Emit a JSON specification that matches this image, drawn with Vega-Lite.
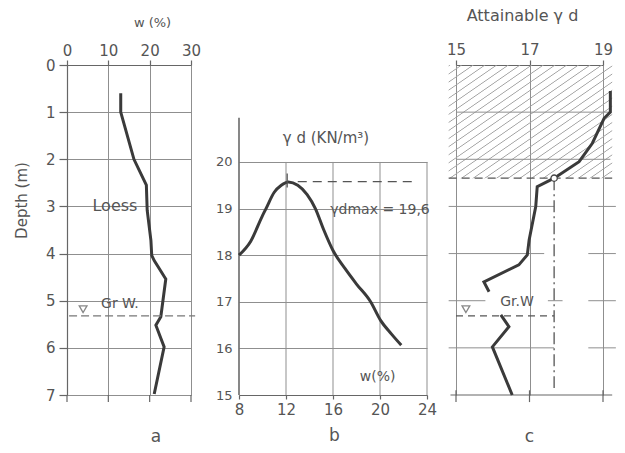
{
  "$schema": "https://vega.github.io/schema/vega-lite/v6.json",
  "background": "white",
  "padding": {"left": 14, "top": 7, "right": 5, "bottom": 5},
  "config": {
    "view": {"stroke": null},
    "font": "DejaVu Sans",
    "axis": {
      "labelColor": "#555", "titleColor": "#555", "domainColor": "#666", "tickColor": "#666",
      "gridColor": "#8f8f8f", "gridOpacity": 1, "gridWidth": 1, "domainWidth": 1.2, "tickWidth": 1.2,
      "labelFontSize": 15, "titleFontSize": 15, "titleFontWeight": "normal", "labelFlush": false
    },
    "text": {"font": "DejaVu Sans", "color": "#555"}
  },
  "datasets": {
    "one": [{}],
    "wprof": [
      {"depth": 0.6, "w": 13.0}, {"depth": 1.0, "w": 13.0}, {"depth": 2.0, "w": 16.2}, {"depth": 2.55, "w": 19.2},
      {"depth": 3.08, "w": 19.4}, {"depth": 3.72, "w": 20.3}, {"depth": 4.04, "w": 20.5}, {"depth": 4.15, "w": 21.1},
      {"depth": 4.54, "w": 23.9}, {"depth": 5.34, "w": 22.7}, {"depth": 5.52, "w": 21.5}, {"depth": 5.98, "w": 23.5},
      {"depth": 6.98, "w": 21.1}
    ],
    "compaction": [
      {"w": 8.0, "g": 18.0}, {"w": 9.0, "g": 18.3}, {"w": 10.0, "g": 18.85}, {"w": 10.3, "g": 19.0},
      {"w": 11.0, "g": 19.35}, {"w": 11.6, "g": 19.5}, {"w": 12.2, "g": 19.57}, {"w": 13.0, "g": 19.5},
      {"w": 13.8, "g": 19.3}, {"w": 14.5, "g": 19.0}, {"w": 15.2, "g": 18.55}, {"w": 16.0, "g": 18.1},
      {"w": 17.0, "g": 17.72}, {"w": 18.0, "g": 17.38}, {"w": 19.2, "g": 17.0}, {"w": 20.05, "g": 16.6},
      {"w": 21.0, "g": 16.3}, {"w": 21.8, "g": 16.07}
    ],
    "attain": [
      {"seg": 1, "depth": 0.55, "g": 19.2}, {"seg": 1, "depth": 1.0, "g": 19.2}, {"seg": 1, "depth": 1.13, "g": 19.03},
      {"seg": 1, "depth": 1.66, "g": 18.71}, {"seg": 1, "depth": 2.05, "g": 18.35}, {"seg": 1, "depth": 2.4, "g": 17.67},
      {"seg": 1, "depth": 2.58, "g": 17.21}, {"seg": 1, "depth": 3.0, "g": 17.17}, {"seg": 1, "depth": 3.71, "g": 16.99},
      {"seg": 1, "depth": 4.03, "g": 16.94}, {"seg": 1, "depth": 4.24, "g": 16.71}, {"seg": 1, "depth": 4.6, "g": 15.76},
      {"seg": 1, "depth": 4.81, "g": 15.9},
      {"seg": 2, "depth": 5.3, "g": 16.22}, {"seg": 2, "depth": 5.55, "g": 16.44}, {"seg": 2, "depth": 5.98, "g": 15.99},
      {"seg": 2, "depth": 7.0, "g": 16.53}
    ],
    "aticks": [{"v": 0}, {"v": 10}, {"v": 20}, {"v": 30}],
    "cticks": [{"v": 15}, {"v": 17}, {"v": 19}],
    "bgrid": [{"v": 12}, {"v": 16}, {"v": 20}, {"v": 24}],
    "cgridFull": [{"d": 1}, {"d": 2}],
    "cgridShort": [{"d": 3}, {"d": 6}],
    "cgridRight": [{"d": 3}, {"d": 4}, {"d": 5}, {"d": 6}]
  },
  "bounds": "flush",
  "spacing": 48,
  "hconcat": [
    {
      "width": 124,
      "height": 330,
      "layer": [
        {
          "data": {"name": "wprof"},
          "mark": {"type": "line", "color": "#3a3a3a", "strokeWidth": 3},
          "encoding": {
            "x": {"field": "w", "type": "quantitative",
              "scale": {"domain": [0, 30], "nice": false, "zero": false},
              "axis": {"orient": "top", "values": [0, 10, 20, 30], "title": "w (%)", "grid": true,
                "tickSize": 5, "labelPadding": 2, "titleX": 85, "titleY": -43, "titleBaseline": "middle",
                "titleAlign": "center", "titleFontSize": 13}},
            "y": {"field": "depth", "type": "quantitative",
              "scale": {"domain": [0, 7], "reverse": true, "nice": false, "zero": false},
              "axis": {"values": [0, 1, 2, 3, 4, 5, 6, 7], "title": "Depth (m)", "grid": true,
                "tickSize": 8, "labelPadding": 4, "titleX": -46, "titleY": 135, "titleBaseline": "middle",
                "titleAlign": "center", "titleAngle": -90}},
            "order": {"field": "depth", "type": "quantitative"}
          }
        },
        {
          "data": {"name": "aticks"},
          "mark": {"type": "rule", "color": "#666", "strokeWidth": 1.2},
          "encoding": {
            "x": {"field": "v", "type": "quantitative"},
            "y": {"datum": 7, "type": "quantitative"},
            "y2": {"datum": 7.15}
          }
        },
        {
          "data": {"name": "one"},
          "mark": {"type": "rule", "color": "#777", "strokeWidth": 1.2, "strokeDash": [8, 4]},
          "encoding": {
            "x": {"datum": 0.5, "type": "quantitative"},
            "x2": {"datum": 31},
            "y": {"datum": 5.32, "type": "quantitative"}
          }
        },
        {
          "data": {"name": "one"},
          "mark": {"type": "point", "shape": "triangle-down", "filled": false, "color": "#555", "strokeWidth": 1.3, "size": 60},
          "encoding": {"x": {"datum": 3.9, "type": "quantitative"}, "y": {"datum": 5.18, "type": "quantitative"}}
        },
        {
          "data": {"name": "one"},
          "mark": {"type": "text", "fontSize": 14, "align": "center", "baseline": "middle"},
          "encoding": {"x": {"datum": 12.8, "type": "quantitative"}, "y": {"datum": 5.07, "type": "quantitative"}, "text": {"value": "Gr W."}}
        },
        {
          "data": {"name": "one"},
          "mark": {"type": "text", "fontSize": 16, "align": "center", "baseline": "middle"},
          "encoding": {"x": {"datum": 11.6, "type": "quantitative"}, "y": {"datum": 3.0, "type": "quantitative"}, "text": {"value": "Loess"}}
        },
        {
          "data": {"name": "one"},
          "mark": {"type": "text", "fontSize": 17, "align": "center", "baseline": "middle"},
          "encoding": {"x": {"datum": 21.5, "type": "quantitative"}, "y": {"datum": 7.9, "type": "quantitative"}, "text": {"value": "a"}}
        }
      ]
    },
    {
      "bounds": "flush",
      "spacing": 29,
      "hconcat": [
        {
          "width": 188,
          "height": 330,
          "layer": [
            {
              "data": {"name": "bgrid"},
              "mark": {"type": "rule", "color": "#8f8f8f", "strokeWidth": 1},
              "encoding": {
                "x": {"field": "v", "type": "quantitative"},
                "y": {"datum": 15, "type": "quantitative"},
                "y2": {"datum": 20}
              }
            },
            {
              "data": {"name": "one"},
              "mark": {"type": "rule", "color": "#555", "strokeWidth": 1.4},
              "encoding": {
                "x": {"datum": 8, "type": "quantitative"},
                "y": {"datum": 15, "type": "quantitative"},
                "y2": {"datum": 20.95}
              }
            },
            {
              "data": {"name": "compaction"},
              "mark": {"type": "line", "color": "#3a3a3a", "strokeWidth": 3, "interpolate": "monotone"},
              "encoding": {
                "x": {"field": "w", "type": "quantitative",
                  "scale": {"domain": [8, 24], "nice": false, "zero": false},
                  "axis": {"orient": "bottom", "values": [8, 12, 16, 20, 24], "grid": false, "tickSize": 4,
                    "labelPadding": 3, "title": "b", "titleFontSize": 17, "titleX": 95, "titleY": 40,
                    "titleBaseline": "middle", "titleAlign": "center"}},
                "y": {"field": "g", "type": "quantitative",
                  "scale": {"domain": [15, 22.08], "nice": false, "zero": false},
                  "axis": {"values": [15, 16, 17, 18, 19, 20], "grid": true, "domain": false, "ticks": false,
                    "labelPadding": 7, "labelFontSize": 13, "title": null}}
              }
            },
            {
              "data": {"name": "one"},
              "mark": {"type": "rule", "color": "#555", "strokeWidth": 1.3},
              "encoding": {
                "x": {"datum": 12.1, "type": "quantitative"},
                "y": {"datum": 19.45, "type": "quantitative"},
                "y2": {"datum": 19.75}
              }
            },
            {
              "data": {"name": "one"},
              "mark": {"type": "rule", "color": "#555", "strokeWidth": 1.3, "strokeDash": [9, 6]},
              "encoding": {
                "x": {"datum": 13, "type": "quantitative"},
                "x2": {"datum": 22.8},
                "y": {"datum": 19.58, "type": "quantitative"}
              }
            },
            {
              "data": {"name": "one"},
              "mark": {"type": "text", "fontSize": 15, "align": "center", "baseline": "middle"},
              "encoding": {"x": {"datum": 15.4, "type": "quantitative"}, "y": {"datum": 20.52, "type": "quantitative"}, "text": {"value": "γ d (KN/m³)"}}
            },
            {
              "data": {"name": "one"},
              "mark": {"type": "text", "fontSize": 14, "align": "center", "baseline": "middle"},
              "encoding": {"x": {"datum": 20.0, "type": "quantitative"}, "y": {"datum": 18.97, "type": "quantitative"}, "text": {"value": "γdmax = 19,6"}}
            },
            {
              "data": {"name": "one"},
              "mark": {"type": "text", "fontSize": 14, "align": "center", "baseline": "middle"},
              "encoding": {"x": {"datum": 19.8, "type": "quantitative"}, "y": {"datum": 15.39, "type": "quantitative"}, "text": {"value": "w(%)"}}
            }
          ]
        },
        {
          "width": 147,
          "height": 330,
          "layer": [
            {
              "data": {"name": "one"},
              "mark": {"type": "rect", "fill": {
                "gradient": "linear", "x1": 0, "y1": 0, "x2": 1, "y2": 1,
                "stops": [
                  {"offset": 0.0, "color": "rgba(150,150,150,0)"}, {"offset": 0.004, "color": "#a0a0a0"}, {"offset": 0.008, "color": "rgba(150,150,150,0)"},
                  {"offset": 0.0357, "color": "rgba(150,150,150,0)"}, {"offset": 0.0397, "color": "#a0a0a0"}, {"offset": 0.0437, "color": "rgba(150,150,150,0)"},
                  {"offset": 0.0714, "color": "rgba(150,150,150,0)"}, {"offset": 0.0754, "color": "#a0a0a0"}, {"offset": 0.0794, "color": "rgba(150,150,150,0)"},
                  {"offset": 0.1071, "color": "rgba(150,150,150,0)"}, {"offset": 0.1111, "color": "#a0a0a0"}, {"offset": 0.1151, "color": "rgba(150,150,150,0)"},
                  {"offset": 0.1429, "color": "rgba(150,150,150,0)"}, {"offset": 0.1469, "color": "#a0a0a0"}, {"offset": 0.1509, "color": "rgba(150,150,150,0)"},
                  {"offset": 0.1786, "color": "rgba(150,150,150,0)"}, {"offset": 0.1826, "color": "#a0a0a0"}, {"offset": 0.1866, "color": "rgba(150,150,150,0)"},
                  {"offset": 0.2143, "color": "rgba(150,150,150,0)"}, {"offset": 0.2183, "color": "#a0a0a0"}, {"offset": 0.2223, "color": "rgba(150,150,150,0)"},
                  {"offset": 0.25, "color": "rgba(150,150,150,0)"}, {"offset": 0.254, "color": "#a0a0a0"}, {"offset": 0.258, "color": "rgba(150,150,150,0)"},
                  {"offset": 0.2857, "color": "rgba(150,150,150,0)"}, {"offset": 0.2897, "color": "#a0a0a0"}, {"offset": 0.2937, "color": "rgba(150,150,150,0)"},
                  {"offset": 0.3214, "color": "rgba(150,150,150,0)"}, {"offset": 0.3254, "color": "#a0a0a0"}, {"offset": 0.3294, "color": "rgba(150,150,150,0)"},
                  {"offset": 0.3571, "color": "rgba(150,150,150,0)"}, {"offset": 0.3611, "color": "#a0a0a0"}, {"offset": 0.3651, "color": "rgba(150,150,150,0)"},
                  {"offset": 0.3929, "color": "rgba(150,150,150,0)"}, {"offset": 0.3969, "color": "#a0a0a0"}, {"offset": 0.4009, "color": "rgba(150,150,150,0)"},
                  {"offset": 0.4286, "color": "rgba(150,150,150,0)"}, {"offset": 0.4326, "color": "#a0a0a0"}, {"offset": 0.4366, "color": "rgba(150,150,150,0)"},
                  {"offset": 0.4643, "color": "rgba(150,150,150,0)"}, {"offset": 0.4683, "color": "#a0a0a0"}, {"offset": 0.4723, "color": "rgba(150,150,150,0)"},
                  {"offset": 0.5, "color": "rgba(150,150,150,0)"}, {"offset": 0.504, "color": "#a0a0a0"}, {"offset": 0.508, "color": "rgba(150,150,150,0)"},
                  {"offset": 0.5357, "color": "rgba(150,150,150,0)"}, {"offset": 0.5397, "color": "#a0a0a0"}, {"offset": 0.5437, "color": "rgba(150,150,150,0)"},
                  {"offset": 0.5714, "color": "rgba(150,150,150,0)"}, {"offset": 0.5754, "color": "#a0a0a0"}, {"offset": 0.5794, "color": "rgba(150,150,150,0)"},
                  {"offset": 0.6071, "color": "rgba(150,150,150,0)"}, {"offset": 0.6111, "color": "#a0a0a0"}, {"offset": 0.6151, "color": "rgba(150,150,150,0)"},
                  {"offset": 0.6429, "color": "rgba(150,150,150,0)"}, {"offset": 0.6469, "color": "#a0a0a0"}, {"offset": 0.6509, "color": "rgba(150,150,150,0)"},
                  {"offset": 0.6786, "color": "rgba(150,150,150,0)"}, {"offset": 0.6826, "color": "#a0a0a0"}, {"offset": 0.6866, "color": "rgba(150,150,150,0)"},
                  {"offset": 0.7143, "color": "rgba(150,150,150,0)"}, {"offset": 0.7183, "color": "#a0a0a0"}, {"offset": 0.7223, "color": "rgba(150,150,150,0)"},
                  {"offset": 0.75, "color": "rgba(150,150,150,0)"}, {"offset": 0.754, "color": "#a0a0a0"}, {"offset": 0.758, "color": "rgba(150,150,150,0)"},
                  {"offset": 0.7857, "color": "rgba(150,150,150,0)"}, {"offset": 0.7897, "color": "#a0a0a0"}, {"offset": 0.7937, "color": "rgba(150,150,150,0)"},
                  {"offset": 0.8214, "color": "rgba(150,150,150,0)"}, {"offset": 0.8254, "color": "#a0a0a0"}, {"offset": 0.8294, "color": "rgba(150,150,150,0)"},
                  {"offset": 0.8571, "color": "rgba(150,150,150,0)"}, {"offset": 0.8611, "color": "#a0a0a0"}, {"offset": 0.8651, "color": "rgba(150,150,150,0)"},
                  {"offset": 0.8929, "color": "rgba(150,150,150,0)"}, {"offset": 0.8969, "color": "#a0a0a0"}, {"offset": 0.9009, "color": "rgba(150,150,150,0)"},
                  {"offset": 0.9286, "color": "rgba(150,150,150,0)"}, {"offset": 0.9326, "color": "#a0a0a0"}, {"offset": 0.9366, "color": "rgba(150,150,150,0)"},
                  {"offset": 0.9643, "color": "rgba(150,150,150,0)"}, {"offset": 0.9683, "color": "#a0a0a0"}, {"offset": 0.9723, "color": "rgba(150,150,150,0)"},
                  {"offset": 1.0, "color": "rgba(150,150,150,0)"}
                ]}},
              "encoding": {
                "x": {"datum": 14.8, "type": "quantitative"},
                "x2": {"datum": 19.25},
                "y": {"datum": 0, "type": "quantitative"},
                "y2": {"datum": 2.4}
              }
            },
            {
              "data": {"name": "cgridFull"},
              "mark": {"type": "rule", "color": "#8f8f8f", "strokeWidth": 1},
              "encoding": {"y": {"field": "d", "type": "quantitative"}, "x": {"datum": 15, "type": "quantitative"}, "x2": {"datum": 19.2}}
            },
            {
              "data": {"name": "cgridShort"},
              "mark": {"type": "rule", "color": "#8f8f8f", "strokeWidth": 1},
              "encoding": {"y": {"field": "d", "type": "quantitative"}, "x": {"datum": 14.8, "type": "quantitative"}, "x2": {"datum": 17.67}}
            },
            {
              "data": {"name": "one"},
              "mark": {"type": "rule", "color": "#8f8f8f", "strokeWidth": 1},
              "encoding": {"y": {"datum": 4, "type": "quantitative"}, "x": {"datum": 14.8, "type": "quantitative"}, "x2": {"datum": 17.4}}
            },
            {
              "data": {"name": "one"},
              "mark": {"type": "rule", "color": "#8f8f8f", "strokeWidth": 1},
              "encoding": {"y": {"datum": 5, "type": "quantitative"}, "x": {"datum": 14.8, "type": "quantitative"}, "x2": {"datum": 15.8}}
            },
            {
              "data": {"name": "one"},
              "mark": {"type": "rule", "color": "#8f8f8f", "strokeWidth": 1},
              "encoding": {"y": {"datum": 5, "type": "quantitative"}, "x": {"datum": 17.5, "type": "quantitative"}, "x2": {"datum": 17.9}}
            },
            {
              "data": {"name": "cgridRight"},
              "mark": {"type": "rule", "color": "#8f8f8f", "strokeWidth": 1},
              "encoding": {"y": {"field": "d", "type": "quantitative"}, "x": {"datum": 18.6, "type": "quantitative"}, "x2": {"datum": 19.35}}
            },
            {
              "data": {"name": "one"},
              "mark": {"type": "rule", "color": "#666", "strokeWidth": 1.2},
              "encoding": {"y": {"datum": 7, "type": "quantitative"}, "x": {"datum": 14.85, "type": "quantitative"}, "x2": {"datum": 19.25}}
            },
            {
              "data": {"name": "cticks"},
              "mark": {"type": "rule", "color": "#666", "strokeWidth": 1.2},
              "encoding": {"x": {"field": "v", "type": "quantitative"}, "y": {"datum": 6.9, "type": "quantitative"}, "y2": {"datum": 7.15}}
            },
            {
              "data": {"name": "attain"},
              "mark": {"type": "line", "color": "#3a3a3a", "strokeWidth": 3},
              "encoding": {
                "x": {"field": "g", "type": "quantitative",
                  "scale": {"domain": [15, 19], "nice": false, "zero": false},
                  "axis": {"orient": "top", "values": [15, 17, 19], "grid": true, "tickSize": 5, "labelPadding": 3,
                    "title": "Attainable   γ d", "titleFontSize": 16, "titleX": 66, "titleY": -50, "titleBaseline": "middle", "titleAlign": "center"}},
                "y": {"field": "depth", "type": "quantitative",
                  "scale": {"domain": [0, 7], "reverse": true, "nice": false, "zero": false},
                  "axis": {"labels": false, "ticks": false, "grid": false, "domain": false, "title": null}},
                "detail": {"field": "seg", "type": "nominal"},
                "order": {"field": "depth", "type": "quantitative"}
              }
            },
            {
              "data": {"name": "one"},
              "mark": {"type": "rule", "color": "#555", "strokeWidth": 1.3, "strokeDash": [8, 5]},
              "encoding": {"y": {"datum": 2.4, "type": "quantitative"}, "x": {"datum": 14.8, "type": "quantitative"}, "x2": {"datum": 19.25}}
            },
            {
              "data": {"name": "one"},
              "mark": {"type": "rule", "color": "#555", "strokeWidth": 1.3, "strokeDash": [12, 4, 2, 4]},
              "encoding": {"x": {"datum": 17.67, "type": "quantitative"}, "y": {"datum": 2.4, "type": "quantitative"}, "y2": {"datum": 6.85}}
            },
            {
              "data": {"name": "one"},
              "mark": {"type": "rule", "color": "#555", "strokeWidth": 1.3, "strokeDash": [7, 5]},
              "encoding": {"x": {"datum": 15.0, "type": "quantitative"}, "x2": {"datum": 17.67}, "y": {"datum": 5.32, "type": "quantitative"}}
            },
            {
              "data": {"name": "one"},
              "mark": {"type": "point", "shape": "circle", "filled": true, "fill": "white", "stroke": "#444", "strokeWidth": 1.3, "size": 40, "opacity": 1},
              "encoding": {"x": {"datum": 17.67, "type": "quantitative"}, "y": {"datum": 2.4, "type": "quantitative"}}
            },
            {
              "data": {"name": "one"},
              "mark": {"type": "point", "shape": "triangle-down", "filled": false, "color": "#555", "strokeWidth": 1.3, "size": 60},
              "encoding": {"x": {"datum": 15.27, "type": "quantitative"}, "y": {"datum": 5.18, "type": "quantitative"}}
            },
            {
              "data": {"name": "one"},
              "mark": {"type": "text", "fontSize": 14, "align": "center", "baseline": "middle"},
              "encoding": {"x": {"datum": 16.66, "type": "quantitative"}, "y": {"datum": 5.03, "type": "quantitative"}, "text": {"value": "Gr.W"}}
            },
            {
              "data": {"name": "one"},
              "mark": {"type": "text", "fontSize": 17, "align": "center", "baseline": "middle"},
              "encoding": {"x": {"datum": 17.0, "type": "quantitative"}, "y": {"datum": 7.9, "type": "quantitative"}, "text": {"value": "c"}}
            }
          ]
        }
      ]
    }
  ]
}
